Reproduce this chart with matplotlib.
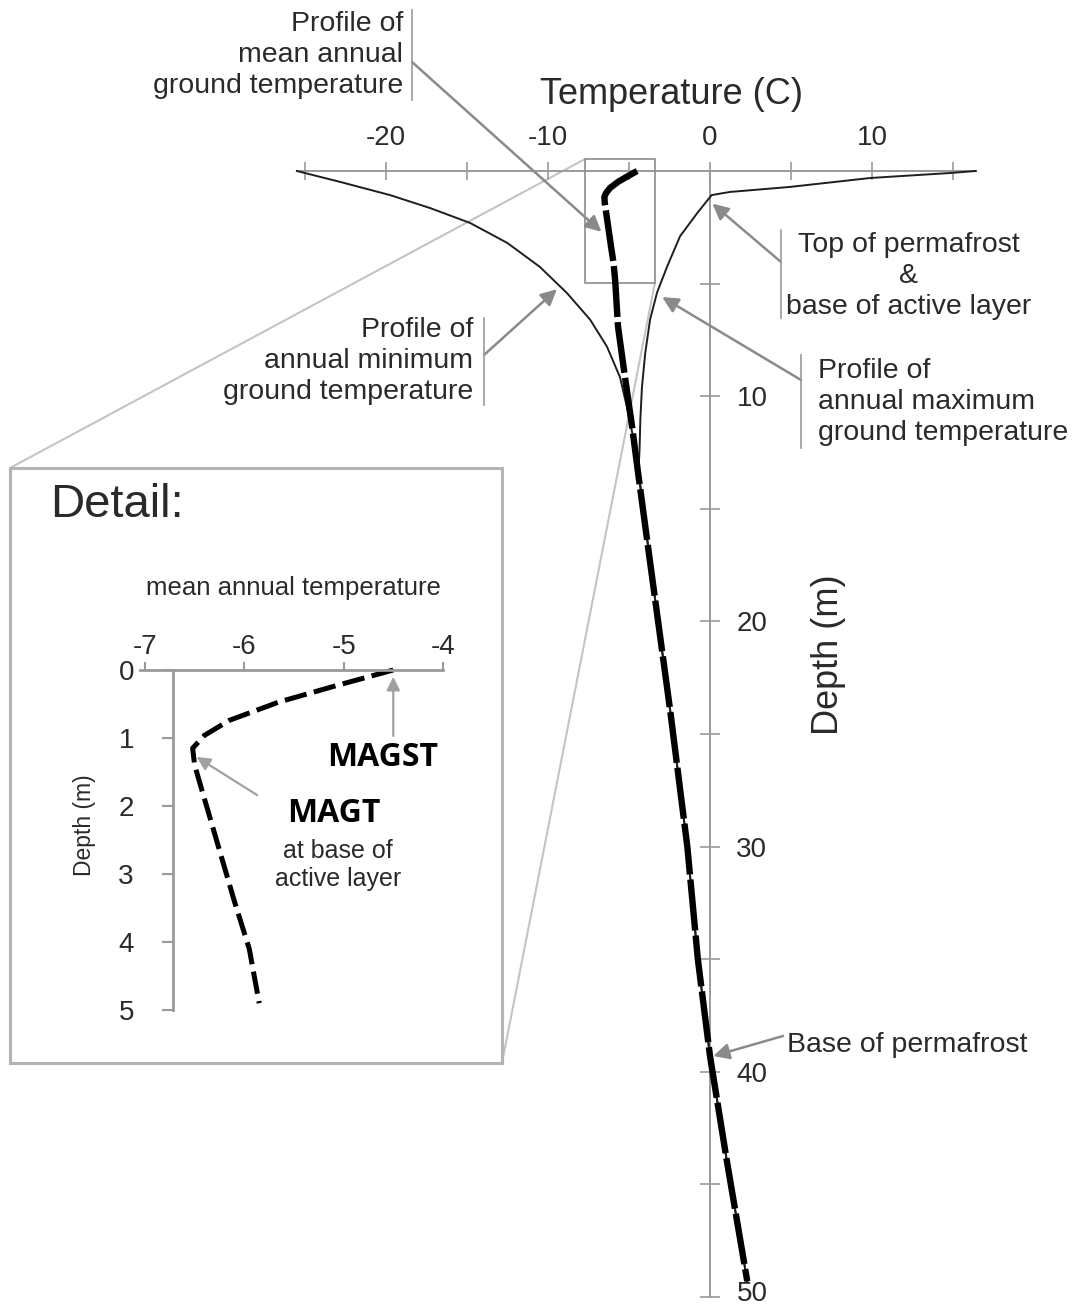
import matplotlib
matplotlib.use("Agg")
import matplotlib.pyplot as plt
from matplotlib.lines import Line2D
from matplotlib.patches import Rectangle, ConnectionPatch
from matplotlib.transforms import ScaledTranslation

plt.rcParams["font.family"] = ["Liberation Sans", "DejaVu Sans"]
plt.rcParams["axes.unicode_minus"] = False

W, H = 1077, 1310

# annual minimum ground temperature (down to where the profiles meet)
min_depth = [0, 0.49, 1.07, 1.64, 2.31, 3.2, 4.26, 5.42, 6.6, 7.8, 9.15, 10.5, 11.8, 12.8]
min_temp = [-25.5, -22.8, -19.75, -17.3, -14.8, -12.5, -10.5, -8.83, -7.4, -6.36, -5.56, -5.12, -4.75, -4.5]

# annual maximum ground temperature
max_depth = [0, 0.09, 0.31, 0.71, 0.93, 1.07, 1.88, 2.9, 4.25, 5.4, 6.6, 8.1, 9.6, 11.05, 12.4, 13.4]
max_temp = [16.4, 14.8, 9.9, 4.9, 1.23, 0.1, -0.8, -1.85, -2.65, -3.27, -3.7, -4.0, -4.2, -4.3, -4.35, -4.42]

# mean annual ground temperature
mean_depth = [0, 0.22, 0.47, 0.74, 0.96, 1.15, 1.4, 1.9, 2.65, 3.4, 4.1, 4.9, 6.9, 9.15, 11.35, 13.4]
mean_temp = [-4.5, -5.05, -5.65, -6.15, -6.4, -6.52, -6.5, -6.4, -6.25, -6.1, -5.95, -5.85, -5.68, -5.25, -4.81, -4.44]

# below ~13.5 m the three profiles follow the same gradient
deep_depth = [18, 24, 30, 35, 39.3, 44, 49.3]
deep_temp = [-3.58, -2.45, -1.4, -0.75, 0.0, 1.05, 2.3]

temp_ticks = [-25, -20, -15, -10, -5, 0, 5, 10, 15]
temp_labels = ["", "-20", "", "-10", "", "0", "", "10", ""]
depth_ticks = [5, 10, 15, 20, 25, 30, 35, 40, 45, 50]
depth_labels = ["", "10", "", "20", "", "30", "", "40", "", "50"]

detail_temp_ticks = [-7, -6, -5, -4]
detail_depth_ticks = [0, 1, 2, 3, 4, 5]

GREY = "#9a9a9a"
LIGHT = "#c4c4c4"
TXT = "#2a2a2a"


def fx(x):
    return x / W


def fy(y):
    return 1 - y / H


fig = plt.figure(figsize=(W / 100, H / 100), dpi=100)

# main axes fills the figure: 0 C sits at x=710 px, 0 m at y=171 px
ax = fig.add_axes([0, 0, 1, 1])
ax.patch.set_alpha(0)
x0, sx = 710, 16.2
y0, sy = 171, 22.52
ax.set_xlim(-x0 / sx, (W - x0) / sx)
ax.set_ylim((H - y0) / sy, -y0 / sy)

for s in ["left", "bottom"]:
    ax.spines[s].set_visible(False)
ax.spines["top"].set_position(("data", 0))
ax.spines["top"].set_bounds(-25.5, 16.4)
ax.spines["right"].set_position(("data", 0))
ax.spines["right"].set_bounds(0, 50)
for s in ["top", "right"]:
    ax.spines[s].set_color(GREY)
    ax.spines[s].set_linewidth(1.4)

ax.xaxis.set_ticks_position("top")
ax.yaxis.set_ticks_position("right")
ax.set_xticks(temp_ticks, temp_labels)
ax.set_yticks(depth_ticks, depth_labels)
ax.tick_params(axis="x", direction="inout", length=13, width=1.2, color=GREY,
               pad=8, labelsize=20, labelcolor=TXT)
ax.tick_params(axis="y", direction="inout", length=14, width=1.2, color=GREY,
               pad=12, labelsize=20, labelcolor=TXT)
last_tick = ax.yaxis.get_major_ticks()[-1]
last_tick.tick2line.set_color("#333333")
last_tick.label2.set_transform(last_tick.label2.get_transform()
                               + ScaledTranslation(0, 4 / 72, fig.dpi_scale_trans))

all_min_d = min_depth + deep_depth
all_min_t = min_temp + deep_temp
all_max_d = max_depth + deep_depth
all_max_t = max_temp + deep_temp
all_mean_d = mean_depth + deep_depth
all_mean_t = mean_temp + deep_temp

ax.plot(all_min_t, all_min_d, color="#1e1e1e", lw=1.4, zorder=4,
        solid_joinstyle="round")
ax.plot(all_max_t, all_max_d, color="#1e1e1e", lw=1.4, zorder=4,
        solid_joinstyle="round")
ax.plot(all_mean_t, all_mean_d, color="black", lw=4.6, dashes=(8, 0.8),
        dash_capstyle="butt", zorder=5)

# box around the near-surface part that is enlarged below
zoom_t0, zoom_t1 = -7.72, -3.4
zoom_d0, zoom_d1 = -0.53, 4.97
ax.add_patch(Rectangle((zoom_t0, zoom_d0), zoom_t1 - zoom_t0, zoom_d1 - zoom_d0,
                       fill=False, edgecolor="#8c8c8c", lw=1.2, zorder=3))

# detail panel frame and its connector lines
box_l, box_t, box_r, box_b = 10, 468, 502, 1063
for (t, d), (bx, by) in [((zoom_t0, zoom_d0), (box_l, box_t)),
                         ((zoom_t1, zoom_d1), (box_r, box_b))]:
    con = ConnectionPatch(xyA=(t, d), coordsA=ax.transData,
                          xyB=(fx(bx), fy(by)), coordsB=fig.transFigure,
                          color=LIGHT, lw=1.5, zorder=1)
    ax.add_artist(con)
ax.add_patch(Rectangle((fx(box_l), fy(box_b)), fx(box_r) - fx(box_l), fy(box_t) - fy(box_b),
                       transform=fig.transFigure, facecolor="white",
                       edgecolor="#b4b4b4", lw=2.2, zorder=6))

fig.text(fx(672), fy(95), "Temperature (C)", ha="center", va="center",
         fontsize=26, color=TXT)
fig.text(fx(828), fy(655), "Depth (m)", ha="center", va="center",
         fontsize=26, rotation=90, color=TXT)

arrow_kw = dict(arrowstyle="-|>", color="#8a8a8a", lw=1.8, mutation_scale=24,
                shrinkA=0, shrinkB=0)


def callout(text, tx, ty, ha, bar_x, bar_y0, bar_y1, tail_y, target):
    fig.text(fx(tx), fy(ty), text, ha=ha, va="center", fontsize=20.5,
             color=TXT, linespacing=1.27, multialignment=ha)
    if bar_x is not None:
        fig.add_artist(Line2D([fx(bar_x)] * 2, [fy(bar_y0), fy(bar_y1)],
                              color=GREY, lw=1.2))
    ax.annotate("", xy=target, xycoords="data",
                xytext=(fx(bar_x if bar_x is not None else tx - 4), fy(tail_y)),
                textcoords="figure fraction", arrowprops=arrow_kw, zorder=7)


callout("Profile of\nmean annual\nground temperature", 403, 55, "right",
        412, 10, 100, 62, (-6.7, 2.7))
callout("Profile of\nannual minimum\nground temperature", 473, 361, "right",
        484, 318, 405, 355, (-9.45, 5.25))
callout("Top of permafrost\n&\nbase of active layer", 909, 276, "center",
        781, 230, 318, 262, (0.15, 1.45))
callout("Profile of\nannual maximum\nground temperature", 818, 402, "left",
        801, 355, 448, 380, (-2.95, 5.6))
callout("Base of permafrost", 787, 1045, "left", None, 0, 0, 1036, (0.2, 39.3))

# detail panel: top 5 m of the mean annual profile
ax2 = fig.add_axes([fx(140), fy(1010), 305 / W, 340 / H], zorder=8)
ax2.patch.set_alpha(0)
ax2.set_xlim(-7.05, -7.05 + 305 / 99.33)
ax2.set_ylim(5, 0)
for s in ["right", "bottom"]:
    ax2.spines[s].set_visible(False)
ax2.spines["top"].set_position(("data", 0))
ax2.spines["top"].set_bounds(-7.05, -4)
ax2.spines["left"].set_position(("data", -6.72))
ax2.spines["left"].set_bounds(0, 5)
for s in ["top", "left"]:
    ax2.spines[s].set_color(GREY)
    ax2.spines[s].set_linewidth(2)
ax2.xaxis.set_ticks_position("top")
ax2.set_xticks(detail_temp_ticks, [str(v) for v in detail_temp_ticks])
ax2.set_yticks(detail_depth_ticks, [str(v) for v in detail_depth_ticks])
ax2.tick_params(axis="x", direction="out", length=6, width=1.5, color=GREY,
                pad=1, labelsize=20, labelcolor=TXT)
ax2.tick_params(axis="y", direction="out", length=8, width=1.5, color=GREY,
                pad=20, labelsize=20, labelcolor=TXT)

n5 = sum(1 for d in mean_depth if d <= 5)
ax2.plot(mean_temp[:n5], mean_depth[:n5], color="black", lw=3.6,
         dashes=(4.5, 1.5), clip_on=False)

inset_arrow = dict(arrowstyle="-|>", color="#a0a0a0", lw=1.6, mutation_scale=20,
                   shrinkA=0, shrinkB=0)
ax2.annotate("", xy=(-4.5, 0.1), xytext=(-4.5, 0.97), arrowprops=inset_arrow,
             annotation_clip=False)
ax2.annotate("", xy=(-6.48, 1.28), xytext=(-5.87, 1.84), arrowprops=inset_arrow,
             annotation_clip=False)

fig.text(fx(50), fy(505), "Detail:", ha="left", va="center", fontsize=34, color=TXT,
         zorder=9)
fig.text(fx(293), fy(588), "mean annual temperature", ha="center", va="center",
         fontsize=18.5, color=TXT, zorder=9)
fig.text(fx(85), fy(825), "Depth (m)", ha="center", va="center", fontsize=16.5,
         rotation=90, color=TXT, zorder=9)
fig.text(fx(383), fy(757), "MAGST", ha="center", va="center", fontsize=23,
         fontweight="bold", family="Open Sans", color="black", zorder=9)
fig.text(fx(334), fy(814), "MAGT", ha="center", va="center", fontsize=23,
         fontweight="bold", family="Open Sans", color="black", zorder=9)
fig.text(fx(338), fy(865), "at base of\nactive layer", ha="center", va="center",
         fontsize=18, color=TXT, linespacing=1.2, zorder=9)

fig.savefig("out.png", dpi=100, facecolor="white")
